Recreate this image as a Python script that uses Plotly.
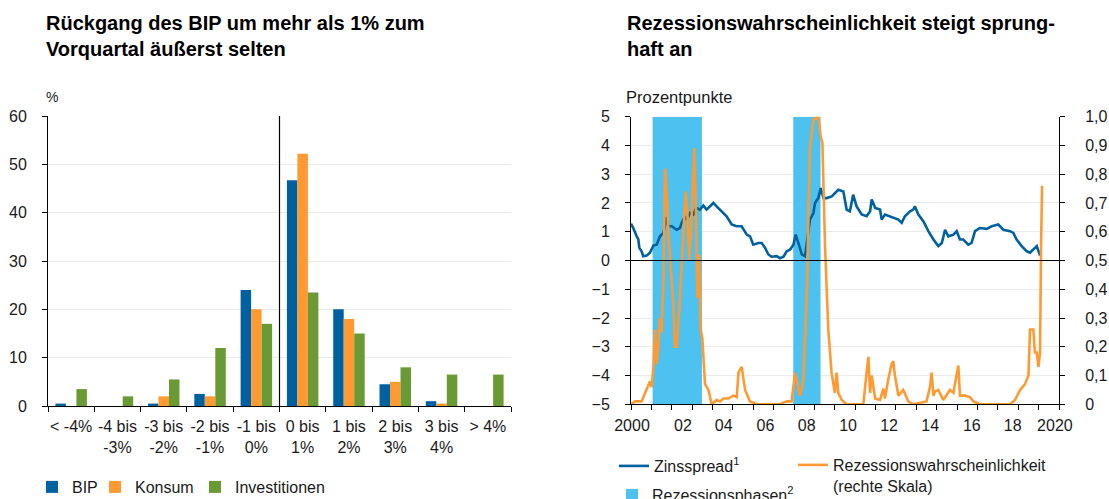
import plotly.graph_objects as go

# ---------------- Data: left chart ----------------
categories = ["< -4%", "-4 bis<br>-3%", "-3 bis<br>-2%", "-2 bis<br>-1%", "-1 bis<br>0%",
              "0 bis<br>1%", "1 bis<br>2%", "2 bis<br>3%", "3 bis<br>4%", "> 4%"]
bip = [0.5, 0, 0.5, 2.5, 24.0, 46.7, 20.0, 4.5, 1.0, 0]
konsum = [0, 0, 2.0, 2.0, 20.0, 52.2, 18.0, 5.0, 0.5, 0]
investitionen = [3.5, 2.0, 5.5, 12.0, 17.0, 23.5, 15.0, 8.0, 6.5, 6.5]

# ---------------- Data: right chart ----------------
spread_t = [2000.0, 2000.11, 2000.28, 2000.36, 2000.41, 2000.52, 2000.6, 2000.77, 2000.93, 2001.1,
            2001.26, 2001.42, 2001.59, 2001.67, 2001.75, 2001.83, 2002.0, 2002.24, 2002.4, 2002.49,
            2002.65, 2002.73, 2002.9, 2003.06, 2003.2, 2003.38, 2003.55, 2003.71, 2004.04, 2004.2,
            2004.45, 2004.69, 2004.94, 2005.18, 2005.43, 2005.68, 2005.84, 2006.0, 2006.25, 2006.41,
            2006.58, 2006.74, 2006.9, 2007.15, 2007.31, 2007.48, 2007.64, 2007.81, 2007.97, 2008.08,
            2008.21, 2008.38, 2008.54, 2008.7, 2008.78, 2008.95, 2009.03, 2009.19, 2009.31, 2009.44,
            2009.6, 2009.85, 2010.01, 2010.17, 2010.42, 2010.58, 2010.74, 2010.9, 2011.07, 2011.32,
            2011.56, 2011.73, 2011.81, 2011.98, 2012.22, 2012.3, 2012.46, 2012.7, 2012.95, 2013.12,
            2013.28, 2013.44, 2013.69, 2013.85, 2013.93, 2014.1, 2014.35, 2014.59, 2014.84, 2015.08,
            2015.25, 2015.41, 2015.57, 2015.82, 2015.98, 2016.14, 2016.3, 2016.55, 2016.71, 2016.88,
            2017.12, 2017.45, 2017.7, 2018.02, 2018.27, 2018.6, 2018.76, 2018.92, 2019.17, 2019.42,
            2019.58, 2019.74, 2019.91, 2020.07]
spread_v = [1.28, 1.13, 0.84, 0.73, 0.44, 0.32, 0.15, 0.17, 0.27, 0.52,
            0.55, 0.84, 0.96, 1.25, 1.51, 1.19, 1.19, 1.07, 1.13, 1.31,
            1.54, 1.42, 1.65, 1.6, 1.83, 1.77, 1.91, 1.77, 2.0, 1.88,
            1.71, 1.54, 1.25, 1.19, 1.19, 0.9, 0.84, 0.55, 0.61, 0.61,
            0.44, 0.21, 0.13, 0.15, 0.08, 0.13, 0.32, 0.38, 0.55, 0.9,
            0.61, 0.21, 0.15, 1.07, 1.42, 1.65, 2.0, 2.17, 2.52, 2.17,
            2.17, 2.23, 2.35, 2.46, 2.4, 1.77, 1.71, 2.29, 1.88, 1.6,
            1.54, 1.71, 2.12, 1.83, 1.77, 1.42, 1.6, 1.54, 1.48, 1.42,
            1.31, 1.54, 1.71, 1.77, 1.88, 1.6, 1.36, 1.02, 0.73, 0.5,
            0.61, 1.07, 0.84, 0.9, 1.02, 0.73, 0.73, 0.55, 0.61, 1.02,
            1.13, 1.1, 1.19, 1.25, 1.07, 1.02, 0.96, 0.73, 0.5, 0.32,
            0.27, 0.38, 0.5, 0.17]

prob_t = [2000.0, 2000.2, 2000.52, 2000.69, 2000.85, 2000.93, 2001.01, 2001.1, 2001.18, 2001.26,
          2001.34, 2001.42, 2001.5, 2001.59, 2001.67, 2001.75, 2001.83, 2002.0, 2002.08, 2002.16,
          2002.24, 2002.4, 2002.57, 2002.68, 2002.77, 2002.85, 2002.98, 2003.11, 2003.19, 2003.26,
          2003.34, 2003.42, 2003.5, 2003.63, 2003.8, 2003.96, 2004.2, 2004.37, 2004.53, 2004.78,
          2005.02, 2005.19, 2005.27, 2005.43, 2005.6, 2005.84, 2006.17, 2007.3, 2007.64, 2007.88,
          2008.05, 2008.21, 2008.29, 2008.45, 2008.62, 2008.78, 2008.95, 2009.19, 2009.31, 2009.39,
          2009.52, 2009.68, 2009.84, 2010.0, 2010.09, 2010.17, 2010.34, 2010.58, 2011.4, 2011.56,
          2011.65, 2011.73, 2011.81, 2011.98, 2012.22, 2012.38, 2012.46, 2012.63, 2012.79, 2012.87,
          2012.95, 2013.12, 2013.36, 2013.61, 2013.85, 2014.5, 2014.67, 2014.75, 2014.84, 2014.92,
          2015.08, 2015.32, 2015.65, 2015.82, 2016.06, 2016.14, 2016.39, 2016.63, 2016.8, 2017.12,
          2018.6, 2018.84, 2019.09, 2019.33, 2019.5, 2019.58, 2019.74, 2019.82, 2019.91, 2019.99,
          2020.07, 2020.12, 2020.17]
prob_v = [0.0, 0.01, 0.01, 0.04, 0.07, 0.08, 0.06, 0.13, 0.26, 0.14,
          0.2, 0.3, 0.25, 0.43, 0.82, 0.74, 0.6, 0.41, 0.34, 0.2,
          0.2, 0.37, 0.6, 0.74, 0.66, 0.5, 0.66, 0.89, 0.66, 0.37,
          0.52, 0.26, 0.23, 0.07, 0.05, 0.0, 0.015, 0.01, 0.02, 0.02,
          0.03, 0.025, 0.11, 0.13, 0.05, 0.01, 0.0, 0.0, 0.01, 0.01,
          0.11, 0.06, 0.03, 0.08, 0.37, 0.89, 0.99, 1.0, 0.93, 0.91,
          0.55, 0.26, 0.11, 0.04, 0.11, 0.04, 0.015, 0.0, 0.0, 0.11,
          0.165, 0.04, 0.1, 0.02, 0.015, 0.055, 0.02, 0.09, 0.14, 0.15,
          0.1, 0.03, 0.05, 0.01, 0.0, 0.01, 0.06, 0.11, 0.03, 0.045,
          0.05, 0.015, 0.05, 0.04, 0.135, 0.03, 0.03, 0.025, 0.01, 0.0,
          0.0, 0.015, 0.05, 0.07, 0.1, 0.26, 0.26, 0.18, 0.18, 0.13,
          0.18, 0.55, 0.76]

rec_start = [2001.06, 2007.96]
rec_end = [2003.48, 2009.30]

year_labels = ["2000", "02", "04", "06", "08", "10", "12", "14", "16", "18", "2020"]
year_label_pos = [2000.05, 2002.55, 2004.55, 2006.6, 2008.62, 2010.65, 2012.66, 2014.68, 2016.72, 2018.73, 2020.8]
left_ticks = [-5, -4, -3, -2, -1, 0, 1, 2, 3, 4, 5]
right_ticks = [0, 0.1, 0.2, 0.3, 0.4, 0.5, 0.6, 0.7, 0.8, 0.9, 1.0]
right_ticktext = ["0", "0,1", "0,2", "0,3", "0,4", "0,5", "0,6", "0,7", "0,8", "0,9", "1,0"]

# ---------------- Styling ----------------
FONT = "Liberation Sans"
TXT = "#1a1a1a"
BLUE = "#0061A1"
ORANGE = "#FF9A33"
GREEN = "#6A9A34"
LIGHTBLUE = "#4DC2F1"
GRID = "#EBEBEB"
W, H = 1109, 499


def px_x(p):
    return p / W


def px_y(p):
    return 1 - p / H


fig = go.Figure()

# Left chart bars (each with its own legend box so spacing matches)
for name, vals, col, leg in [("BIP", bip, BLUE, "legend"), ("Konsum", konsum, ORANGE, "legend5"),
                             ("Investitionen", investitionen, GREEN, "legend6")]:
    fig.add_trace(go.Bar(x=categories, y=vals, name=name, marker=dict(color=col, line=dict(width=0)),
                         xaxis="x", yaxis="y", legend=leg))

# Right chart: recession phases
fig.add_trace(go.Bar(x=[(a + b) / 2 for a, b in zip(rec_start, rec_end)],
                     y=[10] * len(rec_start), base=[-5] * len(rec_start),
                     width=[b - a for a, b in zip(rec_start, rec_end)],
                     name="Rezessionsphasen<sup>2</sup>", marker=dict(color=LIGHTBLUE, line=dict(width=0)),
                     xaxis="x2", yaxis="y2", legend="legend3"))
fig.add_trace(go.Scatter(x=spread_t, y=spread_v, mode="lines", name="Zinsspread<sup>1</sup>",
                         line=dict(color=BLUE, width=2.6), xaxis="x2", yaxis="y2", legend="legend2"))
fig.add_trace(go.Scatter(x=prob_t, y=prob_v, mode="lines",
                         name="Rezessionswahrscheinlichkeit<br>(rechte Skala)",
                         line=dict(color=ORANGE, width=2.6), xaxis="x2", yaxis="y3", legend="legend4"))

tickfont = dict(family=FONT, size=16, color=TXT)
legfont = dict(family=FONT, size=16, color=TXT)


def leg(x, y, yanchor="middle", **kw):
    return dict(orientation="h", x=px_x(x), y=px_y(y), xanchor="left", yanchor=yanchor,
                font=legfont, bgcolor="rgba(0,0,0,0)", **kw)


fig.update_layout(
    width=W, height=H,
    margin=dict(l=0, r=0, t=0, b=0, autoexpand=False),
    paper_bgcolor="white", plot_bgcolor="white",
    font=dict(family=FONT, size=16, color=TXT),
    barmode="group", bargap=0.32, bargroupgap=0,
    xaxis=dict(domain=[px_x(48), px_x(511)], type="category", tickson="boundaries",
               ticks="outside", ticklen=5, tickcolor="black", showline=True, linecolor="black",
               linewidth=1, showgrid=False, tickfont=tickfont, anchor="y", tickangle=0,
               automargin=False, ticklabelstandoff=6),
    yaxis=dict(domain=[px_y(406), px_y(116)], range=[0, 60], dtick=10, ticks="outside", ticklen=5,
               tickcolor="black", showline=True, linecolor="black", linewidth=1,
               showgrid=True, gridcolor=GRID, gridwidth=1.3, zeroline=False, tickfont=tickfont,
               anchor="x", automargin=False, ticklabelstandoff=12),
    xaxis2=dict(domain=[px_x(631), px_x(1059)], range=[2000, 2021], anchor="y2",
                tickmode="array", tickvals=year_label_pos, ticktext=year_labels, ticks="",
                minor=dict(tickmode="linear", tick0=2000, dtick=1, ticks="outside", ticklen=5,
                           tickcolor="black", showgrid=False),
                showline=True, linecolor="black", linewidth=1, showgrid=False, zeroline=False,
                tickfont=tickfont, automargin=False, ticklabelstandoff=6),
    yaxis2=dict(domain=[px_y(404.3), px_y(116.7)], range=[-5, 5], tickvals=left_ticks,
                ticks="outside", ticklen=5, tickcolor="black", showline=True, linecolor="black",
                linewidth=1, showgrid=True, gridcolor=GRID, gridwidth=1.3, zeroline=False,
                tickfont=tickfont, anchor="x2", automargin=False, ticklabelstandoff=12),
    yaxis3=dict(overlaying="y2", side="right", range=[0, 1], tickvals=right_ticks,
                ticktext=right_ticktext, ticks="outside", ticklen=5, tickcolor="black",
                showline=True, linecolor="black", linewidth=1, showgrid=False, zeroline=False,
                tickfont=tickfont, anchor="x2", automargin=False, ticklabelstandoff=17),
    legend=leg(32, 487),
    legend5=leg(95, 487),
    legend6=leg(195, 487),
    legend2=leg(614, 466),
    legend3=leg(612, 495),
    legend4=leg(793, 448, yanchor="top", valign="top"),
    showlegend=True,
)

# vertical separator line in left chart and zero line in right chart
fig.add_shape(type="line", xref="x", yref="y", x0=4.5, x1=4.5, y0=0, y1=60.5,
              line=dict(color="black", width=1.2), layer="above")
fig.add_shape(type="line", xref="x2", yref="y2", x0=2000, x1=2021, y0=0, y1=0,
              line=dict(color="black", width=1.2), layer="above")

# Titles and axis unit labels
fig.add_annotation(text="<b>Rückgang des BIP um mehr als 1% zum<br>Vorquartal äußerst selten</b>",
                   xref="paper", yref="paper", x=px_x(44), y=px_y(10), xanchor="left", yanchor="top",
                   showarrow=False, align="left", font=dict(family=FONT, size=20, color="black"))
fig.add_annotation(text="<b>Rezessionswahrscheinlichkeit steigt sprung-<br>haft an</b>",
                   xref="paper", yref="paper", x=px_x(625), y=px_y(10), xanchor="left", yanchor="top",
                   showarrow=False, align="left", font=dict(family=FONT, size=20, color="black"))
fig.add_annotation(text="%", xref="paper", yref="paper", x=px_x(44), y=px_y(97), xanchor="left",
                   yanchor="middle", showarrow=False, font=dict(family=FONT, size=14, color=TXT))
fig.add_annotation(text="Prozentpunkte", xref="paper", yref="paper", x=px_x(624), y=px_y(97),
                   xanchor="left", yanchor="middle", showarrow=False,
                   font=dict(family=FONT, size=16.5, color=TXT))

fig.write_html("out.html", config={"displayModeBar": False},
               post_script="document.body.style.margin='0px';")
